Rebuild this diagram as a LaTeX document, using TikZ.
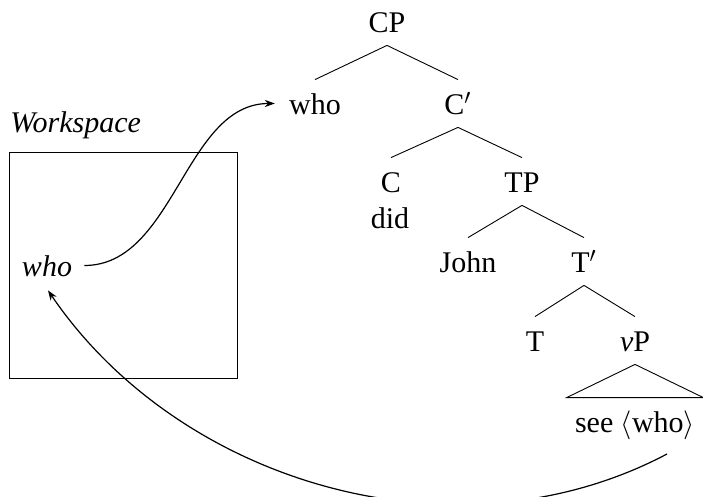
\documentclass[tikz,border=0pt]{standalone}
\usepackage{fontspec}
\setmainfont{Liberation Serif}
\usetikzlibrary{arrows.meta}
\begin{document}
\begin{tikzpicture}[x=0.5pt,y=-0.5pt,
  font=\fontsize{15}{18}\selectfont,
  tn/.style={anchor=base,text height=14.5pt,text depth=3pt,inner ysep=3pt,inner xsep=3pt},
  edge/.style={line width=0.45pt},
  mv/.style={line width=0.6pt,-{Stealth[length=5pt,width=3.6pt]}}]
\useasboundingbox (0,0) rectangle (703,497);
% workspace
\draw[line width=0.45pt] (9,152) rectangle (237,378);
\node[anchor=base west,inner sep=0pt] (wslabel) at (10,133) {\itshape Workspace};
\node[tn,inner xsep=6pt] (whoW) at (47,277) {\itshape who};
% tree
\node[tn] (CP) at (387,33) {CP};
\node[tn,inner xsep=7pt] (who) at (315,115) {who};
\node[tn] (Cbar) at (458,115) {C$'$};
\node[tn] (C) at (391,193) {C};
\node[tn] (TP) at (522,193) {TP};
\node[tn] (did) at (390,229) {did};
\node[tn] (John) at (468,273) {John};
\node[tn] (Tbar) at (584,273) {T$'$};
\node[tn] (T) at (535,352) {T};
\node[tn] (vP) at (635,352) {\textit{v}P};
\node[tn,inner xsep=4pt] (see) at (635,433) {see $\langle$who$\rangle$};
\draw[edge] (CP.south) -- (who.north);
\draw[edge] (CP.south) -- (Cbar.north);
\draw[edge] (Cbar.south) -- (C.north);
\draw[edge] (Cbar.south) -- (TP.north);
\draw[edge] (TP.south) -- (John.north);
\draw[edge] (TP.south) -- (Tbar.north);
\draw[edge] (Tbar.south) -- (T.north);
\draw[edge] (Tbar.south) -- (vP.north);
\draw[edge] (vP.south) -- (see.north west) -- (see.north east) -- cycle;
% movement arrows
\draw[mv] (whoW.east) .. controls +(90,0) and +(-90,0) .. (who.west);
\coordinate (s) at (667,454);
\draw[mv] (s) .. controls +(-210,111) and +(132,194) .. ([xshift=0.5pt,yshift=-0.5pt]whoW.south);
\end{tikzpicture}
\end{document}
